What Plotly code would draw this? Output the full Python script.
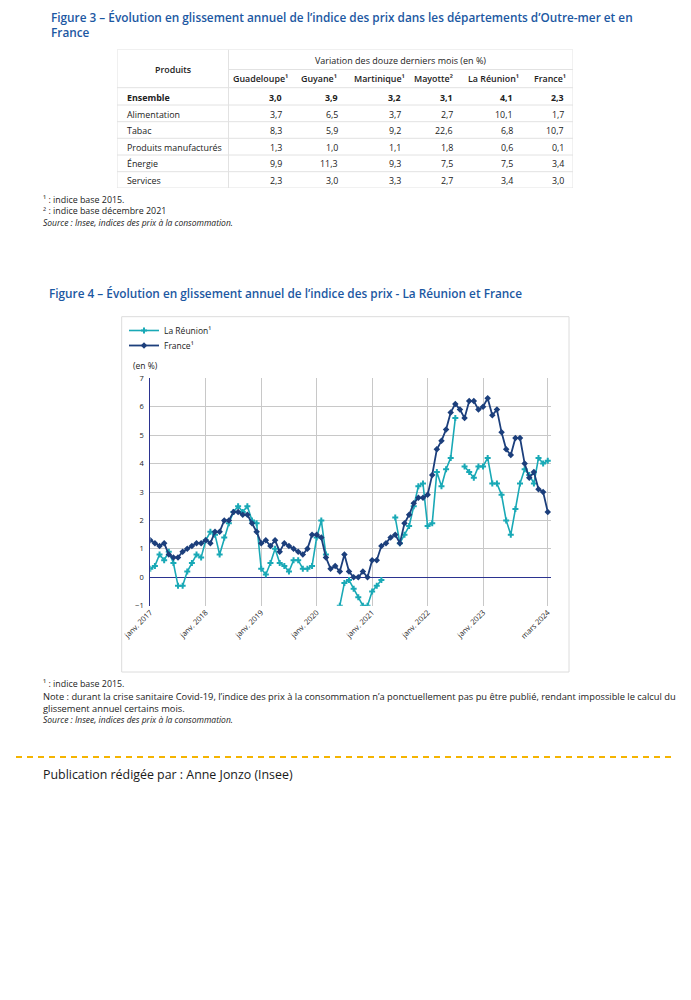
import plotly.graph_objects as go

# ---------------- DATA ----------------
# Figure 3 table
table_columns = ["Guadeloupe¹", "Guyane¹", "Martinique¹", "Mayotte²", "La Réunion¹", "France¹"]
table_products = ["Ensemble", "Alimentation", "Tabac", "Produits manufacturés", "Énergie", "Services"]
table_values = [
    ["3,0", "3,9", "3,2", "3,1", "4,1", "2,3"],
    ["3,7", "6,5", "3,7", "2,7", "10,1", "1,7"],
    ["8,3", "5,9", "9,2", "22,6", "6,8", "10,7"],
    ["1,3", "1,0", "1,1", "1,8", "0,6", "0,1"],
    ["9,9", "11,3", "9,3", "7,5", "7,5", "3,4"],
    ["2,3", "3,0", "3,3", "2,7", "3,4", "3,0"],
]

# Figure 4 series: monthly, janv. 2017 -> mars 2024
month_names = ["janv.", "févr.", "mars", "avr.", "mai", "juin", "juil.", "août", "sept.", "oct.", "nov.", "déc."]
months = [f"{month_names[m]} {y}" for y in range(2017, 2025) for m in range(12)][:87]

france = [1.3, 1.2, 1.1, 1.2, 0.8, 0.7, 0.7, 0.9, 1.0, 1.1, 1.2, 1.2,
          1.3, 1.2, 1.6, 1.6, 2.0, 2.0, 2.3, 2.3, 2.2, 2.2, 1.9, 1.6,
          1.2, 1.3, 1.1, 1.3, 0.9, 1.2, 1.1, 1.0, 0.9, 0.8, 1.0, 1.5,
          1.5, 1.4, 0.7, 0.3, 0.4, 0.2, 0.8, 0.2, 0.0, 0.0, 0.2, 0.0,
          0.6, 0.6, 1.1, 1.2, 1.4, 1.5, 1.2, 1.9, 2.2, 2.6, 2.8, 2.8,
          2.9, 3.6, 4.5, 4.8, 5.2, 5.8, 6.1, 5.9, 5.6, 6.2, 6.2, 5.9,
          6.0, 6.3, 5.7, 5.9, 5.1, 4.5, 4.3, 4.9, 4.9, 4.0, 3.5, 3.7,
          3.1, 3.0, 2.3]

reunion = [0.3, 0.4, 0.8, 0.6, 0.9, 0.5, -0.3, -0.3, 0.2, 0.5, 0.8, 0.7,
           1.3, 1.6, 1.5, 0.8, 1.4, 1.9, 2.3, 2.5, 2.3, 2.5, 2.0, 1.9,
           0.3, 0.1, 0.5, 1.0, 0.5, 0.4, 0.2, 0.6, 0.6, 0.3, 0.3, 0.4,
           1.4, 2.0, 0.8, None, None, -1.0, -0.2, -0.1, -0.4, -0.7, -1.0, -1.0,
           -0.5, -0.3, -0.1, None, None, 2.1, 1.2, 1.5, 1.8, 2.5, 3.2, 3.3,
           1.8, 1.9, 3.7, 3.2, 3.8, 4.2, 5.6, None, 3.9, 3.7, 3.5, 3.9,
           3.9, 4.2, 3.3, 3.3, 2.9, 2.0, 1.5, 2.4, 3.3, 3.8, 3.6, 3.3,
           4.2, 4.0, 4.1]

x_tick_labels = ["janv. 2017", "janv. 2018", "janv. 2019", "janv. 2020",
                 "janv. 2021", "janv. 2022", "janv. 2023", "mars 2024"]

# ---------------- LAYOUT HELPERS ----------------
W, H, OFF = 683, 984, 8
FONT = "Open Sans"
BLUE = "#1c58a2"
TXT = "#222222"
TEAL = "#19a9b6"
NAVY = "#1c3f7c"
AXIS_NAVY = "#2b3390"
GRID = "#c8c8c8"


def px(X):
    return (X - OFF) / W


def py(Y):
    return 1 - (Y - OFF) / H


fig = go.Figure()

idx = list(range(len(months)))
fig.add_trace(go.Scatter(
    x=idx, y=reunion, name="La Réunion¹", mode="lines+markers",
    line=dict(color=TEAL, width=1.6), marker=dict(symbol="cross", size=5, color=TEAL),
    connectgaps=False, text=months, hovertemplate="%{text}: %{y}<extra>La Réunion</extra>",
    xaxis="x", yaxis="y", legend="legend"))
fig.add_trace(go.Scatter(
    x=idx, y=france, name="France¹", mode="lines+markers",
    line=dict(color=NAVY, width=1.8), marker=dict(symbol="diamond", size=5, color=NAVY),
    text=months, hovertemplate="%{text}: %{y}<extra>France</extra>",
    xaxis="x", yaxis="y", legend="legend2"))

tick_positions = [months.index(t) for t in x_tick_labels]

annotations = []
shapes = []


def note(X, Y, text, size=8.5, color=TXT, weight=None, italic=False, xanchor="left"):
    f = dict(family=FONT, size=size, color=color)
    if weight:
        f["weight"] = weight
    if italic:
        f["style"] = "italic"
    annotations.append(dict(x=px(X), y=py(Y), xref="paper", yref="paper", text=text,
                            showarrow=False, xanchor=xanchor, yanchor="middle", font=f))


# Titles
note(49, 17.5, "Figure 3 – Évolution en glissement annuel de l’indice des prix dans les départements d’Outre-mer et en",
     size=11.8, color=BLUE, weight=600)
note(49, 31.5, "France", size=11.8, color=BLUE, weight=600)
note(47, 293, "Figure 4 – Évolution en glissement annuel de l’indice des prix - La Réunion et France",
     size=11.8, color=BLUE, weight=600)

# Table footnotes
note(41, 199, "¹ : indice base 2015.", size=8.9)
note(41, 210, "² : indice base décembre 2021", size=8.9)
note(41, 222, "Source : Insee, indices des prix à la consommation.", size=8.5, italic=True)

# Chart footnotes
note(41, 683, "¹ : indice base 2015.", size=8.9)
note(41, 696, "Note : durant la crise sanitaire Covid-19, l’indice des prix à la consommation n’a ponctuellement pas pu être publié, rendant impossible le calcul du", size=9.3)
note(41, 708, "glissement annuel certains mois.", size=9.3)
note(41, 719.5, "Source : Insee, indices des prix à la consommation.", size=8.5, italic=True)

note(41, 774, "Publication rédigée par : Anne Jonzo (Insee)", size=12.4, color="#1a1a1a")
note(131, 366, "(en %)", size=8.5)

# Chart frame
shapes.append(dict(type="rect", xref="paper", yref="paper", x0=px(121.7), x1=px(569), y0=py(672), y1=py(316.7),
                   line=dict(color="#dcdcdc", width=1), layer="below"))
# dashed separator
shapes.append(dict(type="line", xref="paper", yref="paper", x0=px(16), x1=px(673), y0=py(757), y1=py(757),
                   line=dict(color="#f5b400", width=2, dash="6px,5px")))

# ---------------- TABLE (on its own pixel-like axes) ----------------
T_LEFT, T_RIGHT, T_TOP, T_BOTTOM = 117, 573, 49.5, 188
SEP_X = 228.5
row_centers = [97.3, 114, 130.5, 147, 163.5, 180]
row_lines = [87.7, 105, 121.7, 138.3, 155, 171.7]
header_centers_x = [260, 318.5, 379, 433, 493.5, 550]
value_right_x = [283.5, 339.5, 402.5, 454.5, 514.5, 565.5]

shapes.append(dict(type="rect", xref="x2", yref="y2", x0=T_LEFT, x1=T_RIGHT, y0=T_TOP, y1=T_BOTTOM,
                   line=dict(color="#e2e2e2", width=1)))
shapes.append(dict(type="line", xref="x2", yref="y2", x0=SEP_X, x1=SEP_X, y0=T_TOP, y1=T_BOTTOM,
                   line=dict(color="#e2e2e2", width=1)))
shapes.append(dict(type="line", xref="x2", yref="y2", x0=SEP_X, x1=T_RIGHT, y0=69.5, y1=69.5,
                   line=dict(color="#e2e2e2", width=1)))
for yl in row_lines:
    shapes.append(dict(type="line", xref="x2", yref="y2", x0=T_LEFT, x1=T_RIGHT, y0=yl, y1=yl,
                       line=dict(color="#e2e2e2", width=1)))


def cell(x, y, text, xanchor, weight=None, size=8.9):
    f = dict(family=FONT, size=size, color=TXT)
    if weight:
        f["weight"] = weight
    annotations.append(dict(x=x, y=y, xref="x2", yref="y2", text=text, showarrow=False,
                            xanchor=xanchor, yanchor="middle", font=f))


cell(173, 69.5, "Produits", "center", weight=600)
cell(400, 60, "Variation des douze derniers mois (en %)", "center", size=9)
for cx, name in zip(header_centers_x, table_columns):
    cell(cx, 78.5, name, "center", weight=600)
for r, (prod, vals) in enumerate(zip(table_products, table_values)):
    w = 700 if r == 0 else None
    cell(125, row_centers[r], prod, "left", weight=w)
    for cx, v in zip(value_right_x, vals):
        cell(cx, row_centers[r], v, "right", weight=w)

legend_common = dict(xanchor="left", yanchor="middle", bgcolor="rgba(0,0,0,0)",
                     font=dict(family=FONT, size=8.5, color=TXT), itemwidth=30)

fig.update_layout(
    width=W, height=H, margin=dict(l=0, r=0, t=0, b=0, autoexpand=False),
    paper_bgcolor="white", plot_bgcolor="white",
    font=dict(family=FONT, size=8, color=TXT),
    showlegend=True,
    legend=dict(x=px(124), y=py(330.5), **legend_common),
    legend2=dict(x=px(124), y=py(345.5), **legend_common),
    xaxis=dict(domain=[px(150.3), px(551)], range=[0, 86.7], tickmode="array",
               tickvals=tick_positions, ticktext=x_tick_labels, tickangle=-45,
               showgrid=True, gridcolor=GRID, gridwidth=1, zeroline=False, showline=False,
               ticks="", tickfont=dict(family=FONT, size=7.5, color=TXT), anchor="y",
               fixedrange=True, automargin=False),
    yaxis=dict(domain=[py(605.7), py(378.3)], range=[-1, 7], tickmode="array",
               tickvals=[-1, 0, 1, 2, 3, 4, 5, 6, 7], showgrid=True, gridcolor=GRID, gridwidth=1,
               zeroline=True, zerolinecolor=AXIS_NAVY, zerolinewidth=1.2,
               showline=True, linecolor=AXIS_NAVY, linewidth=1.2, ticks="",
               tickfont=dict(family=FONT, size=7.5, color=TXT), anchor="x", ticklabelstandoff=4,
               fixedrange=True, automargin=False),
    xaxis2=dict(domain=[px(T_LEFT), px(T_RIGHT)], range=[T_LEFT, T_RIGHT], visible=False,
                anchor="y2", fixedrange=True, automargin=False),
    yaxis2=dict(domain=[py(T_BOTTOM), py(T_TOP)], range=[T_BOTTOM, T_TOP], visible=False,
                anchor="x2", fixedrange=True, automargin=False),
    annotations=annotations,
    shapes=shapes,
)

fig.write_html("out.html")
